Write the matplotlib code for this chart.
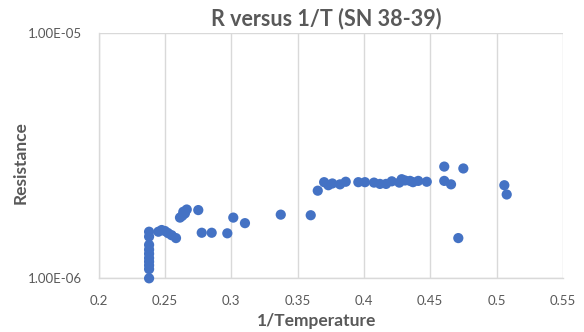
import matplotlib
matplotlib.use("Agg")
import matplotlib.pyplot as plt
from matplotlib.ticker import FixedLocator, FixedFormatter, NullLocator

plt.rcParams['font.family'] = ['Lato', 'DejaVu Sans']

inv_temp = [
    0.238, 0.238, 0.238, 0.238, 0.238, 0.238, 0.238, 0.238, 0.238, 0.238,
    0.245, 0.2475, 0.250, 0.2523, 0.255, 0.2583,
    0.2613, 0.263, 0.2638, 0.265, 0.2664, 0.2751,
    0.2777, 0.2852, 0.297, 0.3015, 0.3103, 0.3373, 0.3599, 0.3652,
    0.370, 0.3732, 0.3762, 0.382, 0.3863, 0.3958, 0.4008, 0.4076, 0.4121,
    0.4167, 0.421, 0.4267, 0.4285, 0.431, 0.4348, 0.437, 0.441, 0.4474,
    0.4606, 0.4606, 0.4657, 0.4712, 0.475, 0.5059, 0.5077,
]
resistance = [
    1.55e-6, 1.48e-6, 1.37e-6, 1.31e-6, 1.26e-6, 1.21e-6, 1.17e-6, 1.13e-6, 1.09e-6, 1.0e-6,
    1.55e-6, 1.575e-6, 1.56e-6, 1.53e-6, 1.50e-6, 1.46e-6,
    1.77e-6, 1.80e-6, 1.87e-6, 1.84e-6, 1.91e-6, 1.90e-6,
    1.535e-6, 1.535e-6, 1.527e-6, 1.77e-6, 1.68e-6, 1.82e-6, 1.81e-6, 2.28e-6,
    2.47e-6, 2.40e-6, 2.44e-6, 2.42e-6, 2.48e-6, 2.47e-6, 2.47e-6, 2.46e-6, 2.43e-6,
    2.43e-6, 2.49e-6, 2.46e-6, 2.54e-6, 2.51e-6, 2.50e-6, 2.47e-6, 2.50e-6, 2.48e-6,
    2.86e-6, 2.50e-6, 2.42e-6, 1.46e-6, 2.81e-6, 2.40e-6, 2.20e-6,
]

x_ticks = [0.2, 0.25, 0.3, 0.35, 0.4, 0.45, 0.5, 0.55]
x_tick_labels = ["0.2", "0.25", "0.3", "0.35", "0.4", "0.45", "0.5", "0.55"]
y_ticks = [1e-6, 1e-5]
y_tick_labels = ["1.00E-06", "1.00E-05"]

grey_text = "#595959"
grid_col = "#d9d9d9"

fig = plt.figure(figsize=(5.84, 3.32), dpi=100)
ax = fig.add_axes([0.169, 0.1617, 0.7947, 0.7374])

ax.scatter(inv_temp, resistance, s=54, color="#4472C4", edgecolors="none", zorder=3,
           clip_on=False)

ax.set_yscale("log")
ax.set_xlim(0.2, 0.55)
ax.set_ylim(1e-6, 1e-5)

ax.xaxis.set_major_locator(FixedLocator(x_ticks))
ax.xaxis.set_major_formatter(FixedFormatter(x_tick_labels))
ax.yaxis.set_major_locator(FixedLocator(y_ticks))
ax.yaxis.set_major_formatter(FixedFormatter(y_tick_labels))
ax.yaxis.set_minor_locator(NullLocator())
ax.xaxis.set_minor_locator(NullLocator())

ax.grid(True, axis="both", color=grid_col, linewidth=1.0, zorder=0)
ax.set_axisbelow(True)
for side in ["top", "right"]:
    ax.spines[side].set_visible(False)
for side in ["left", "bottom"]:
    ax.spines[side].set_color(grid_col)
    ax.spines[side].set_linewidth(1.0)

ax.tick_params(axis="x", length=0, labelsize=9.5, labelcolor=grey_text, pad=12)
ax.tick_params(axis="y", length=0, labelsize=9.5, labelcolor=grey_text, pad=12)

ax.set_xlabel("1/Temperature", fontsize=12.5, fontweight="bold", color=grey_text)
ax.xaxis.label.set_va("center")
ax.xaxis.set_label_coords(0.470, -0.1744)
ax.set_ylabel("Resistance", fontsize=12.5, fontweight="bold", color=grey_text)
ax.yaxis.label.set_va("center")
ax.yaxis.set_label_coords(-0.1675, 0.471)
fig.text(0.559, 0.943, "R versus 1/T (SN 38-39)", fontsize=15.5, fontweight="bold",
         color=grey_text, ha="center", va="center")

fig.savefig("out.png", dpi=100)
